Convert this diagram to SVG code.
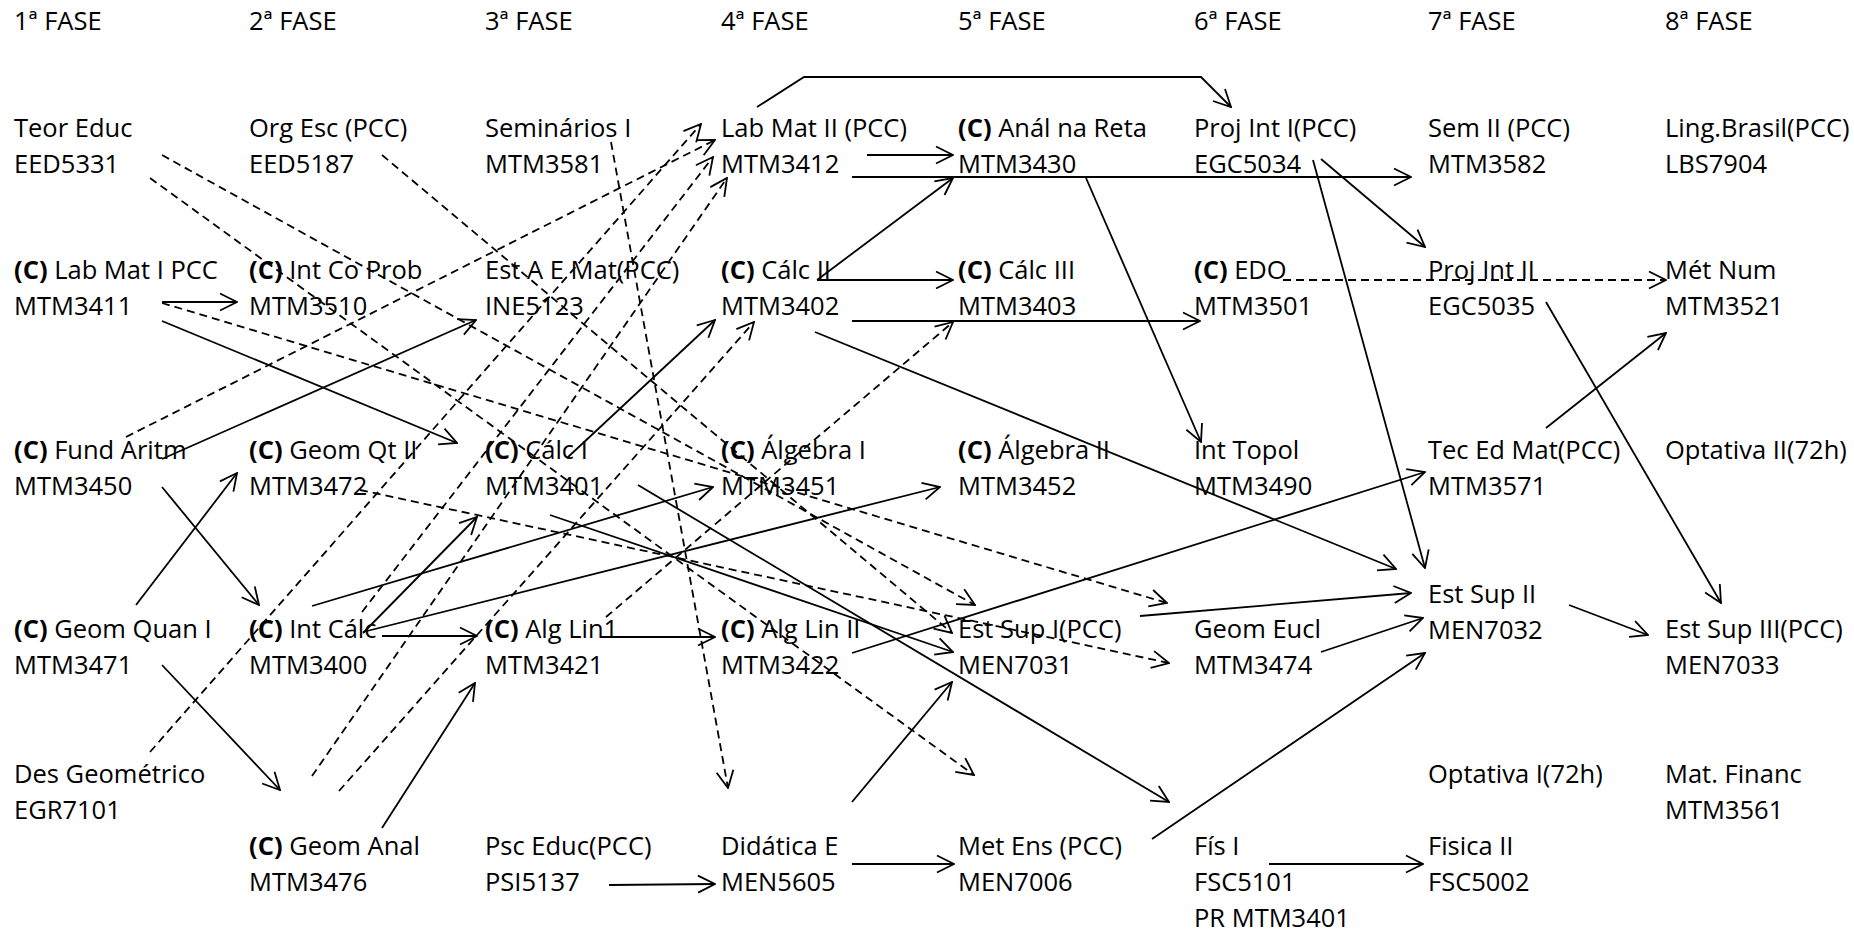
<svg xmlns="http://www.w3.org/2000/svg" width="1854" height="931" viewBox="0 0 1854 931">
<style>
text{font-family:"Open Sans","Liberation Sans",sans-serif;font-size:25.5px;fill:#000}
.b{font-weight:bold}
.s{fill:none;stroke:#000;stroke-width:1.8}
.d{fill:none;stroke:#000;stroke-width:1.8;stroke-dasharray:8 5}
</style>
<defs>
<marker id="arr" viewBox="-19 -10 20 20" refX="0" refY="0" markerWidth="20" markerHeight="20" markerUnits="userSpaceOnUse" orient="auto">
<path d="M-17,-8.5 L0,0 L-17,8.5" fill="none" stroke="#000" stroke-width="1.8"/>
</marker>
</defs>
<rect width="1854" height="931" fill="#fff"/>
<g id="headers">
<text x="14" y="30">1ª FASE</text><text x="249" y="30">2ª FASE</text><text x="485" y="30">3ª FASE</text><text x="721" y="30">4ª FASE</text>
<text x="958" y="30">5ª FASE</text><text x="1194" y="30">6ª FASE</text><text x="1428" y="30">7ª FASE</text><text x="1665" y="30">8ª FASE</text>
</g>
<g id="connectors">
<g class="s" marker-end="url(#arr)">
<polyline points="757,107 804,77 1201,77 1231,107"/>
<line x1="867" y1="155" x2="953" y2="155"/>
<line x1="852" y1="177" x2="1411" y2="177"/>
<line x1="817" y1="280" x2="953" y2="178"/>
<line x1="817" y1="280" x2="953" y2="280"/>
<line x1="852" y1="321" x2="1200" y2="321"/>
<line x1="1086" y1="178" x2="1201" y2="442"/>
<line x1="815" y1="332" x2="1396" y2="569"/>
<line x1="1313" y1="160" x2="1425" y2="568"/>
<line x1="1321" y1="159" x2="1425" y2="247"/>
<line x1="1546" y1="302" x2="1721" y2="603"/>
<line x1="1546" y1="428" x2="1666" y2="333"/>
<line x1="852" y1="653" x2="1425" y2="472"/>
<line x1="1140" y1="616" x2="1411" y2="593"/>
<line x1="1321" y1="652" x2="1423" y2="618"/>
<line x1="1152" y1="839" x2="1425" y2="653"/>
<line x1="1569" y1="605" x2="1648" y2="635"/>
<line x1="1269" y1="864" x2="1423" y2="864"/>
<line x1="852" y1="864" x2="954" y2="864"/>
<line x1="609" y1="885" x2="715" y2="884"/>
<line x1="852" y1="802" x2="952" y2="682"/>
<line x1="638" y1="485" x2="1169" y2="802"/>
<line x1="550" y1="515" x2="953" y2="652"/>
<line x1="567" y1="458" x2="715" y2="320"/>
<line x1="162" y1="321" x2="457" y2="443"/>
<line x1="162" y1="459" x2="476" y2="320"/>
<line x1="162" y1="302" x2="237" y2="302"/>
<line x1="312" y1="606" x2="713" y2="487"/>
<line x1="363" y1="632" x2="940" y2="487"/>
<line x1="363" y1="633" x2="477" y2="517"/>
<line x1="382" y1="636" x2="477" y2="636"/>
<line x1="600" y1="637" x2="715" y2="637"/>
<line x1="382" y1="828" x2="475" y2="683"/>
<line x1="136" y1="605" x2="237" y2="473"/>
<line x1="162" y1="487" x2="259" y2="605"/>
<line x1="162" y1="665" x2="280" y2="790"/>
</g>
<g class="d" marker-end="url(#arr)">
<line x1="126" y1="437" x2="715" y2="140"/>
<line x1="150" y1="752" x2="701" y2="124"/>
<line x1="312" y1="776" x2="727" y2="178"/>
<line x1="339" y1="791" x2="754" y2="322"/>
<line x1="362" y1="612" x2="713" y2="157"/>
<line x1="606" y1="617" x2="953" y2="322"/>
<line x1="1283" y1="280" x2="1666" y2="280"/>
<line x1="162" y1="155" x2="975" y2="605"/>
<line x1="150" y1="178" x2="974" y2="775"/>
<line x1="162" y1="303" x2="1167" y2="603"/>
<line x1="382" y1="155" x2="952" y2="633"/>
<line x1="360" y1="490" x2="1169" y2="663"/>
<line x1="611" y1="142" x2="728" y2="788"/>
</g>
</g>
<g id="n_teor_educ"><text x="14" y="137">Teor Educ</text><text x="14" y="173">EED5331</text></g>
<g id="n_org_esc"><text x="249" y="137">Org Esc (PCC)</text><text x="249" y="173">EED5187</text></g>
<g id="n_seminarios1"><text x="485" y="137">Seminários I</text><text x="485" y="173">MTM3581</text></g>
<g id="n_lab_mat2"><text x="721" y="137">Lab Mat II (PCC)</text><text x="721" y="173">MTM3412</text></g>
<g id="n_anal_reta"><text x="958" y="137"><tspan class="b">(C)</tspan> Anál na Reta</text><text x="958" y="173">MTM3430</text></g>
<g id="n_proj_int1"><text x="1194" y="137">Proj Int I(PCC)</text><text x="1194" y="173">EGC5034</text></g>
<g id="n_sem2"><text x="1428" y="137">Sem II (PCC)</text><text x="1428" y="173">MTM3582</text></g>
<g id="n_ling_brasil"><text x="1665" y="137">Ling.Brasil(PCC)</text><text x="1665" y="173">LBS7904</text></g>

<g id="n_lab_mat1"><text x="14" y="279"><tspan class="b">(C)</tspan> Lab Mat I PCC</text><text x="14" y="315">MTM3411</text></g>
<g id="n_int_co_prob"><text x="249" y="279"><tspan class="b">(C)</tspan> Int Co Prob</text><text x="249" y="315">MTM3510</text></g>
<g id="n_est_a_e_mat"><text x="485" y="279">Est A E Mat(PCC)</text><text x="485" y="315">INE5123</text></g>
<g id="n_calc2"><text x="721" y="279"><tspan class="b">(C)</tspan> Cálc II</text><text x="721" y="315">MTM3402</text></g>
<g id="n_calc3"><text x="958" y="279"><tspan class="b">(C)</tspan> Cálc III</text><text x="958" y="315">MTM3403</text></g>
<g id="n_edo"><text x="1194" y="279"><tspan class="b">(C)</tspan> EDO</text><text x="1194" y="315">MTM3501</text></g>
<g id="n_proj_int2"><text x="1428" y="279">Proj Int II</text><text x="1428" y="315">EGC5035</text></g>
<g id="n_met_num"><text x="1665" y="279">Mét Num</text><text x="1665" y="315">MTM3521</text></g>

<g id="n_fund_aritm"><text x="14" y="459"><tspan class="b">(C)</tspan> Fund Aritm</text><text x="14" y="495">MTM3450</text></g>
<g id="n_geom_qt2"><text x="249" y="459"><tspan class="b">(C)</tspan> Geom Qt II</text><text x="249" y="495">MTM3472</text></g>
<g id="n_calc1"><text x="485" y="459"><tspan class="b">(C)</tspan> Cálc I</text><text x="485" y="495">MTM3401</text></g>
<g id="n_algebra1"><text x="721" y="459"><tspan class="b">(C)</tspan> Álgebra I</text><text x="721" y="495">MTM3451</text></g>
<g id="n_algebra2"><text x="958" y="459"><tspan class="b">(C)</tspan> Álgebra II</text><text x="958" y="495">MTM3452</text></g>
<g id="n_int_topol"><text x="1194" y="459">Int Topol</text><text x="1194" y="495">MTM3490</text></g>
<g id="n_tec_ed_mat"><text x="1428" y="459">Tec Ed Mat(PCC)</text><text x="1428" y="495">MTM3571</text></g>
<g id="n_optativa2"><text x="1665" y="459">Optativa II(72h)</text></g>

<g id="n_geom_quan1"><text x="14" y="638"><tspan class="b">(C)</tspan> Geom Quan I</text><text x="14" y="674">MTM3471</text></g>
<g id="n_int_calc"><text x="249" y="638"><tspan class="b">(C)</tspan> Int Cálc</text><text x="249" y="674">MTM3400</text></g>
<g id="n_alg_lin1"><text x="485" y="638"><tspan class="b">(C)</tspan> Alg Lin1</text><text x="485" y="674">MTM3421</text></g>
<g id="n_alg_lin2"><text x="721" y="638"><tspan class="b">(C)</tspan> Alg Lin II</text><text x="721" y="674">MTM3422</text></g>
<g id="n_est_sup1"><text x="958" y="638">Est Sup I(PCC)</text><text x="958" y="674">MEN7031</text></g>
<g id="n_geom_eucl"><text x="1194" y="638">Geom Eucl</text><text x="1194" y="674">MTM3474</text></g>
<g id="n_est_sup2"><text x="1428" y="603">Est Sup II</text><text x="1428" y="639">MEN7032</text></g>
<g id="n_est_sup3"><text x="1665" y="638">Est Sup III(PCC)</text><text x="1665" y="674">MEN7033</text></g>

<g id="n_des_geom"><text x="14" y="783">Des Geométrico</text><text x="14" y="819">EGR7101</text></g>
<g id="n_optativa1"><text x="1428" y="783">Optativa I(72h)</text></g>
<g id="n_mat_financ"><text x="1665" y="783">Mat. Financ</text><text x="1665" y="819">MTM3561</text></g>

<g id="n_geom_anal"><text x="249" y="855"><tspan class="b">(C)</tspan> Geom Anal</text><text x="249" y="891">MTM3476</text></g>
<g id="n_psc_educ"><text x="485" y="855">Psc Educ(PCC)</text><text x="485" y="891">PSI5137</text></g>
<g id="n_didatica"><text x="721" y="855">Didática E</text><text x="721" y="891">MEN5605</text></g>
<g id="n_met_ens"><text x="958" y="855">Met Ens (PCC)</text><text x="958" y="891">MEN7006</text></g>
<g id="n_fis1"><text x="1194" y="855">Fís I</text><text x="1194" y="891">FSC5101</text><text x="1194" y="927">PR MTM3401</text></g>
<g id="n_fisica2"><text x="1428" y="855">Fisica II</text><text x="1428" y="891">FSC5002</text></g>
</svg>
